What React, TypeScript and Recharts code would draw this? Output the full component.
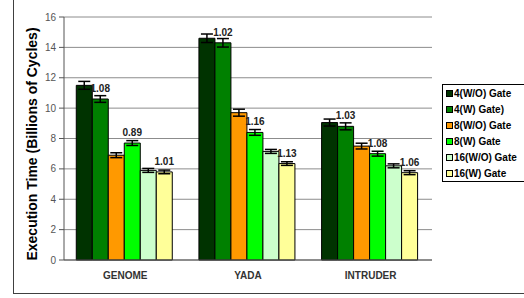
import React from 'react';
import { BarChart, Bar, XAxis, YAxis, CartesianGrid, ErrorBar, LabelList, ReferenceLine } from 'recharts';

const categories = ['GENOME', 'YADA', 'INTRUDER'];
const seriesNames = ['4(W/O) Gate', '4(W) Gate)', '8(W/O) Gate', '8(W) Gate', '16(W/O) Gate', '16(W) Gate'];
const seriesColors = ['#003300', '#008000', '#FF9900', '#00FF00', '#CCFFCC', '#FFFF99'];

const v4wo = [11.5, 14.6, 9.05];
const v4w = [10.6, 14.3, 8.8];
const v8wo = [6.9, 9.7, 7.5];
const v8w = [7.7, 8.4, 7.0];
const v16wo = [5.9, 7.15, 6.2];
const v16w = [5.8, 6.35, 5.75];

const e4wo = [0.26, 0.28, 0.23];
const e4w = [0.22, 0.28, 0.23];
const e8wo = [0.16, 0.23, 0.19];
const e8w = [0.16, 0.19, 0.16];
const e16wo = [0.13, 0.13, 0.13];
const e16w = [0.12, 0.12, 0.13];

const ratio4 = ['1.08', '1.02', '1.03'];
const ratio8 = ['0.89', '1.16', '1.08'];
const ratio16 = ['1.01', '1.13', '1.06'];

const yTicks = [0, 2, 4, 6, 8, 10, 12, 14, 16];
const sepTicks = [1, 2];

const keys = ['s4wo', 's4w', 's8wo', 's8w', 's16wo', 's16w'];
const values = [v4wo, v4w, v8wo, v8w, v16wo, v16w];
const errors = [e4wo, e4w, e8wo, e8w, e16wo, e16w];

const data = categories.map((name, i) => {
  const row: any = { name, r4: ratio4[i], r8: ratio8[i], r16: ratio16[i] };
  keys.forEach((k, j) => {
    row[k] = values[j][i];
    row[k + 'Err'] = errors[j][i];
  });
  return row;
});

const FONT = '"Liberation Sans", Arial, sans-serif';

const labelStyle = { fontSize: 10, fontWeight: 'bold', fill: '#222', fontFamily: FONT };

export default function App() {
  return (
    <div style={{ position: 'absolute', left: 0, top: 0, width: 524, height: 298, background: '#fff', fontFamily: FONT }}>
      <div
        style={{
          position: 'absolute',
          left: 13,
          top: 0,
          width: 511,
          height: 293,
          borderLeft: '1px solid #404040',
          borderBottom: '1px solid #404040',
        }}
      />
      <div
        style={{
          position: 'absolute',
          left: 32,
          top: 144,
          transform: 'translate(-50%, -50%) rotate(-90deg)',
          whiteSpace: 'nowrap',
          fontSize: 14,
          fontWeight: 'bold',
          color: '#000',
          fontFamily: FONT,
        }}
      >
        Execution Time (Billions of Cycles)
      </div>
      <div style={{ position: 'absolute', left: 0, top: 0 }}>
        <BarChart
          width={524}
          height={298}
          data={data}
          margin={{ top: 17, right: 92, left: 0, bottom: 0 }}
          barCategoryGap="10%"
          barGap={0}
          style={{ fontFamily: FONT }}
        >
          <CartesianGrid horizontal vertical={false} stroke="#8c8c8c" strokeWidth={1} />
          <XAxis
            xAxisId="sep"
            type="number"
            domain={[0, 3]}
            ticks={sepTicks}
            height={0}
            axisLine={false}
            tickSize={4}
            tickLine={{ stroke: '#808080' }}
            tickFormatter={() => ''}
            allowDataOverflow
          />
          <XAxis
            xAxisId="cat"
            dataKey="name"
            height={38}
            tickLine={false}
            axisLine={{ stroke: '#555' }}
            tickMargin={6}
            tick={{ fontSize: 10, fontWeight: 'bold', fill: '#333', fontFamily: FONT }}
            interval={0}
          />
          <YAxis
            width={64}
            domain={[0, 16]}
            ticks={yTicks}
            tickSize={5}
            tickMargin={3}
            axisLine={{ stroke: '#555' }}
            tickLine={{ stroke: '#555' }}
            tick={{ fontSize: 10, fill: '#555', fontFamily: FONT }}
          />
          <ReferenceLine xAxisId="sep" x={3} stroke="#808080" />
          {keys.map((k, j) => (
            <Bar
              key={k}
              xAxisId="cat"
              dataKey={k}
              name={seriesNames[j]}
              fill={seriesColors[j]}
              stroke="#000"
              strokeWidth={1}
              isAnimationActive={false}
            >
              <ErrorBar dataKey={k + 'Err'} width={6} stroke="#000" strokeWidth={1.5} direction="y" />
              {k === 's4w' && <LabelList dataKey="r4" position="top" offset={7} style={labelStyle} />}
              {k === 's8w' && <LabelList dataKey="r8" position="top" offset={7} style={labelStyle} />}
              {k === 's16w' && <LabelList dataKey="r16" position="top" offset={7} style={labelStyle} />}
            </Bar>
          ))}
        </BarChart>
      </div>
      <div
        style={{
          position: 'absolute',
          left: 442,
          top: 84,
          width: 82,
          height: 98,
          border: '1px solid #000',
          borderRight: 'none',
          background: '#fff',
          boxSizing: 'border-box',
          fontFamily: FONT,
        }}
      >
        {seriesNames.map((n, i) => (
          <div key={n} style={{ display: 'flex', alignItems: 'center', height: 16.1 }}>
            <span
              style={{
                display: 'inline-block',
                width: 5,
                height: 5,
                border: '1px solid #000',
                background: seriesColors[i],
                marginLeft: 3,
                marginRight: 1,
                flex: 'none',
              }}
            />
            <span style={{ fontSize: 10, fontWeight: 'bold', color: '#000', whiteSpace: 'nowrap' }}>{n}</span>
          </div>
        ))}
      </div>
    </div>
  );
}
